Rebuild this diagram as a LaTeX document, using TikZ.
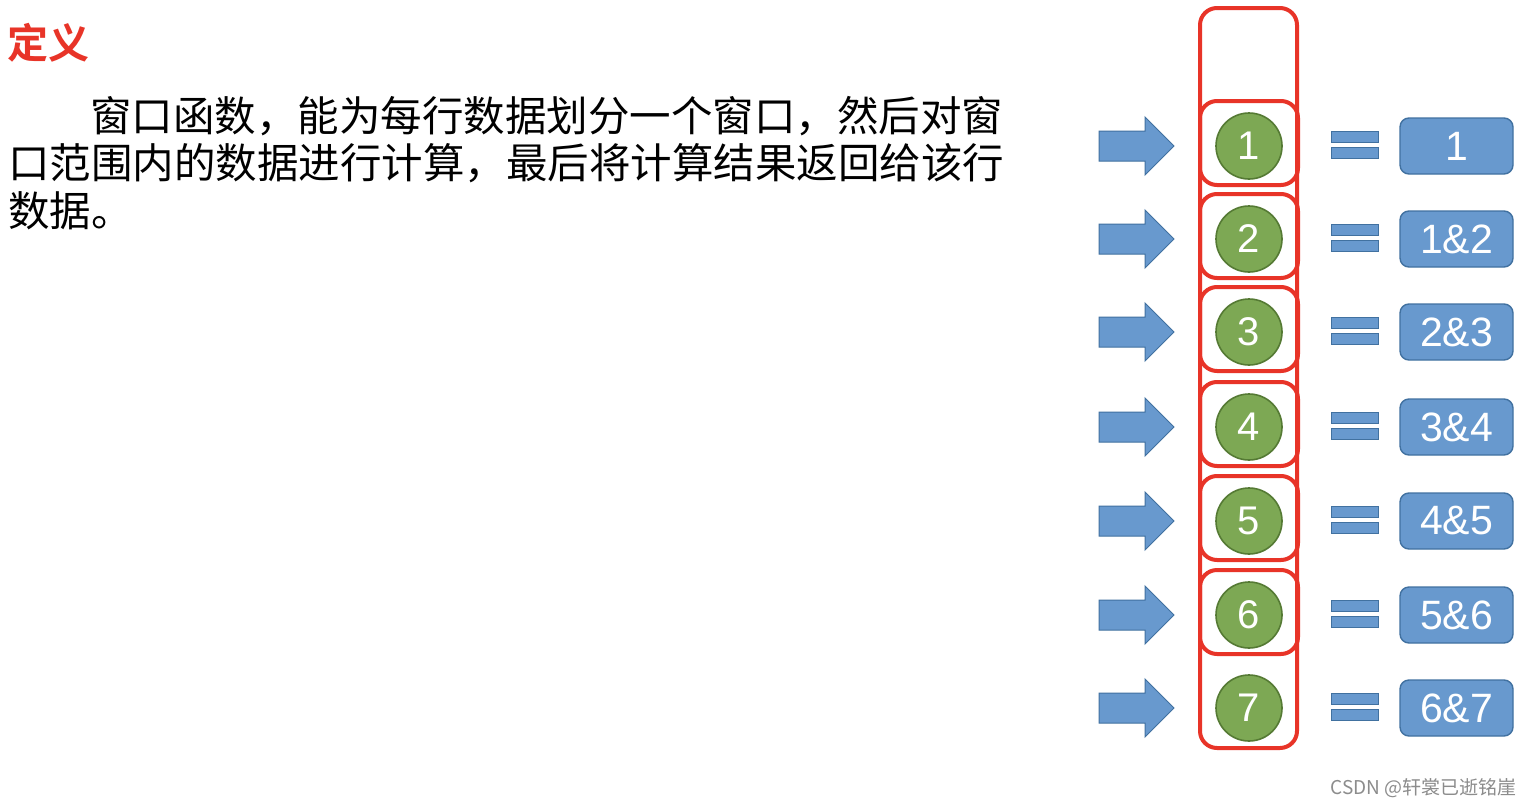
\documentclass[tikz,border=0pt]{standalone}
\usepackage{fontspec}
\setmainfont{Liberation Sans}
\newfontfamily\cjk{Noto Sans CJK SC}
\newfontfamily\cjkbold{Noto Sans CJK SC}[BoldFont={* Bold}]
\definecolor{winred}{RGB}{232,52,40}
\definecolor{arrowfill}{RGB}{104,153,206}
\definecolor{arrowedge}{RGB}{65,113,160}
\definecolor{circfill}{RGB}{125,168,84}
\definecolor{circedge}{RGB}{85,122,52}
\definecolor{marktext}{RGB}{140,140,140}
\begin{document}
\begin{tikzpicture}[x=1pt,y=-1pt,
  winbox/.style={draw=winred,line width=4pt,rounded corners=17pt},
  rowcirc/.style={circle,draw=circedge,line width=1.6pt,fill=circfill,minimum size=66pt,inner sep=0pt,text=white,font=\fontsize{40}{40}\selectfont},
  resbox/.style={draw=arrowedge,line width=1.4pt,fill=arrowfill,rounded corners=9pt,minimum width=113pt,minimum height=56pt,inner sep=0pt,text=white,font=\fontsize{41}{41}\selectfont},
  bigarrow/.style={draw=arrowedge,line width=1pt,fill=arrowfill},
  eqbar/.style={draw=arrowedge,line width=1pt,fill=arrowfill},
  bodytext/.style={anchor=base west,inner sep=0pt,font=\cjk\fontsize{41.5}{41.5}\selectfont}]
\useasboundingbox (0,0) rectangle (1532,806);
\fill[white] (0,0) rectangle (1532,806);
% title
\node[anchor=base west,inner sep=0pt,text=winred,font=\cjkbold\bfseries\fontsize{41}{41}\selectfont] (title) at (7,58) {定义};
% paragraph
\node[bodytext] (l1) at (90,131) {窗口函数，能为每行数据划分一个窗口，然后对窗};
\node[bodytext] (l2) at (8,178) {口范围内的数据进行计算，最后将计算结果返回给该行};
\node[bodytext] (l3) at (8,226) {数据。};
% big column
\draw[winbox] (1200,8) rectangle (1297,748);
% rows
\foreach \i/\y/\lab in {1/146/1,2/239/1\&2,3/332/2\&3,4/427/3\&4,5/521/4\&5,6/615/5\&6,7/708/6\&7}{
  \ifnum\i<7
    \draw[winbox] (1200,\y-45) rectangle (1298,\y+39);
  \fi
  \node[rowcirc] (c\i) at (1249,\y) {\i};
  \draw[bigarrow] (1099,\y-15) -- (1145,\y-15) -- (1145,\y-29) -- (1174,\y) -- (1145,\y+29) -- (1145,\y+15) -- (1099,\y+15) -- cycle;
  \draw[eqbar] (1331,\y-15) rectangle (1378,\y-4);
  \draw[eqbar] (1331,\y+1) rectangle (1378,\y+12);
  \node[resbox] (r\i) at (1456.5,\y) {\lab};
}
% watermark
\node[anchor=east,inner sep=0pt,text=marktext,font=\cjk\fontsize{19}{19}\selectfont] (mark) at (1517,788) {CSDN @轩裳已逝铭崖};
\end{tikzpicture}
\end{document}
